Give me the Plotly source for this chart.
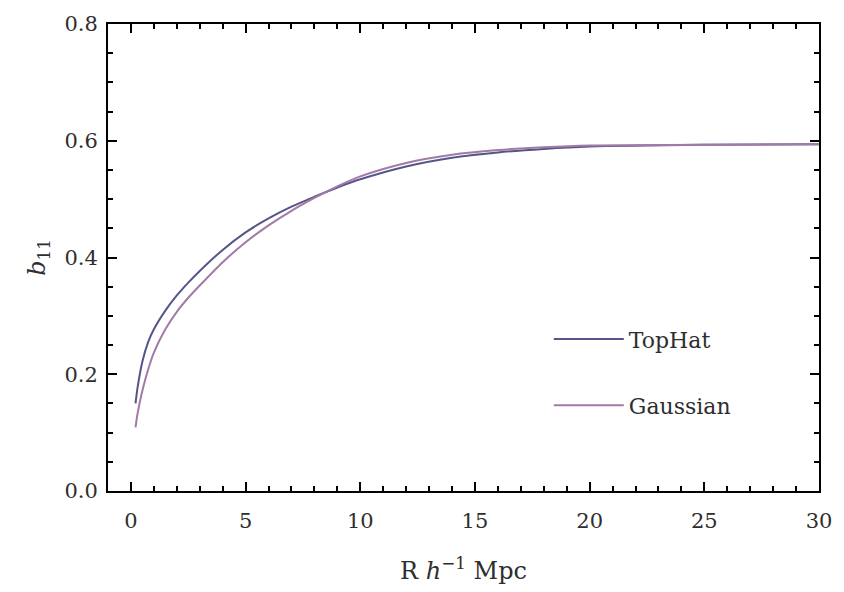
import plotly.graph_objects as go

# Data
R_tophat = [0.2, 0.3, 0.5, 0.75, 1, 1.5, 2, 2.5, 3, 4, 5, 6, 7, 8, 9, 10, 12, 14, 16, 18, 20, 25, 30]
b11_tophat = [0.150, 0.180, 0.222, 0.255, 0.277, 0.309, 0.335, 0.357, 0.377, 0.413, 0.443, 0.467,
              0.487, 0.504, 0.520, 0.534, 0.556, 0.571, 0.580, 0.586, 0.590, 0.593, 0.594]
R_gauss = [0.2, 0.3, 0.5, 0.75, 1, 1.5, 2, 2.5, 3, 4, 5, 6, 7, 8, 9, 10, 12, 14, 16, 18, 20, 25, 30]
b11_gauss = [0.109, 0.135, 0.172, 0.208, 0.237, 0.277, 0.307, 0.331, 0.352, 0.392, 0.426, 0.455,
             0.480, 0.502, 0.522, 0.539, 0.562, 0.576, 0.584, 0.589, 0.592, 0.593, 0.594]

x_ticks = [0, 5, 10, 15, 20, 25, 30]
y_ticks = [0.0, 0.2, 0.4, 0.6, 0.8]
y_ticklabels = ["0.0", "0.2", "0.4", "0.6", "0.8"]

FONT = "DejaVu Serif"
TXT = "#2e2e2e"
C_TOP = "#55558a"
C_GAU = "#a27aa6"

fig = go.Figure()
fig.add_trace(go.Scatter(x=R_tophat, y=b11_tophat, mode="lines", name="TopHat", showlegend=True,
                         line=dict(color=C_TOP, width=2, shape="spline", smoothing=0.8), legend="legend"))
fig.add_trace(go.Scatter(x=R_gauss, y=b11_gauss, mode="lines", name="Gaussian", showlegend=True,
                         line=dict(color=C_GAU, width=2, shape="spline", smoothing=0.8), legend="legend2"))

axis_common = dict(showline=True, linecolor="black", linewidth=2, mirror="ticks",
                   ticks="inside", tickcolor="black", tickwidth=2, ticklen=9,
                   showgrid=False, zeroline=False,
                   tickfont=dict(family=FONT, size=21, color=TXT))

fig.update_xaxes(range=[-1, 30], tickvals=x_ticks, ticklabelstandoff=10,
                 minor=dict(dtick=1, ticks="inside", ticklen=5, tickwidth=1.5, tickcolor="black"),
                 title=dict(text="R <i>h</i><sup>−1</sup> Mpc", font=dict(family=FONT, size=24, color=TXT),
                            standoff=30),
                 **axis_common)
fig.update_yaxes(range=[0, 0.8], tickvals=y_ticks, ticktext=y_ticklabels, ticklabelstandoff=4,
                 minor=dict(dtick=0.05, ticks="inside", ticklen=5, tickwidth=1.5, tickcolor="black"),
                 title=dict(text="<i>b</i><sub>11</sub>", font=dict(family=FONT, size=24, color=TXT),
                            standoff=12),
                 **axis_common)

legend_common = dict(bgcolor="rgba(0,0,0,0)", borderwidth=0,
                     font=dict(family=FONT, size=22, color=TXT),
                     xanchor="left", yanchor="middle", itemwidth=70, visible=True)
fig.update_layout(
    width=844, height=592,
    showlegend=True,
    margin=dict(l=108, r=16, t=20, b=101),
    paper_bgcolor="white", plot_bgcolor="white",
    legend=dict(x=0.62, y=0.325, **legend_common),
    legend2=dict(x=0.62, y=0.183, **legend_common),
)

fig.write_html("out.html")
